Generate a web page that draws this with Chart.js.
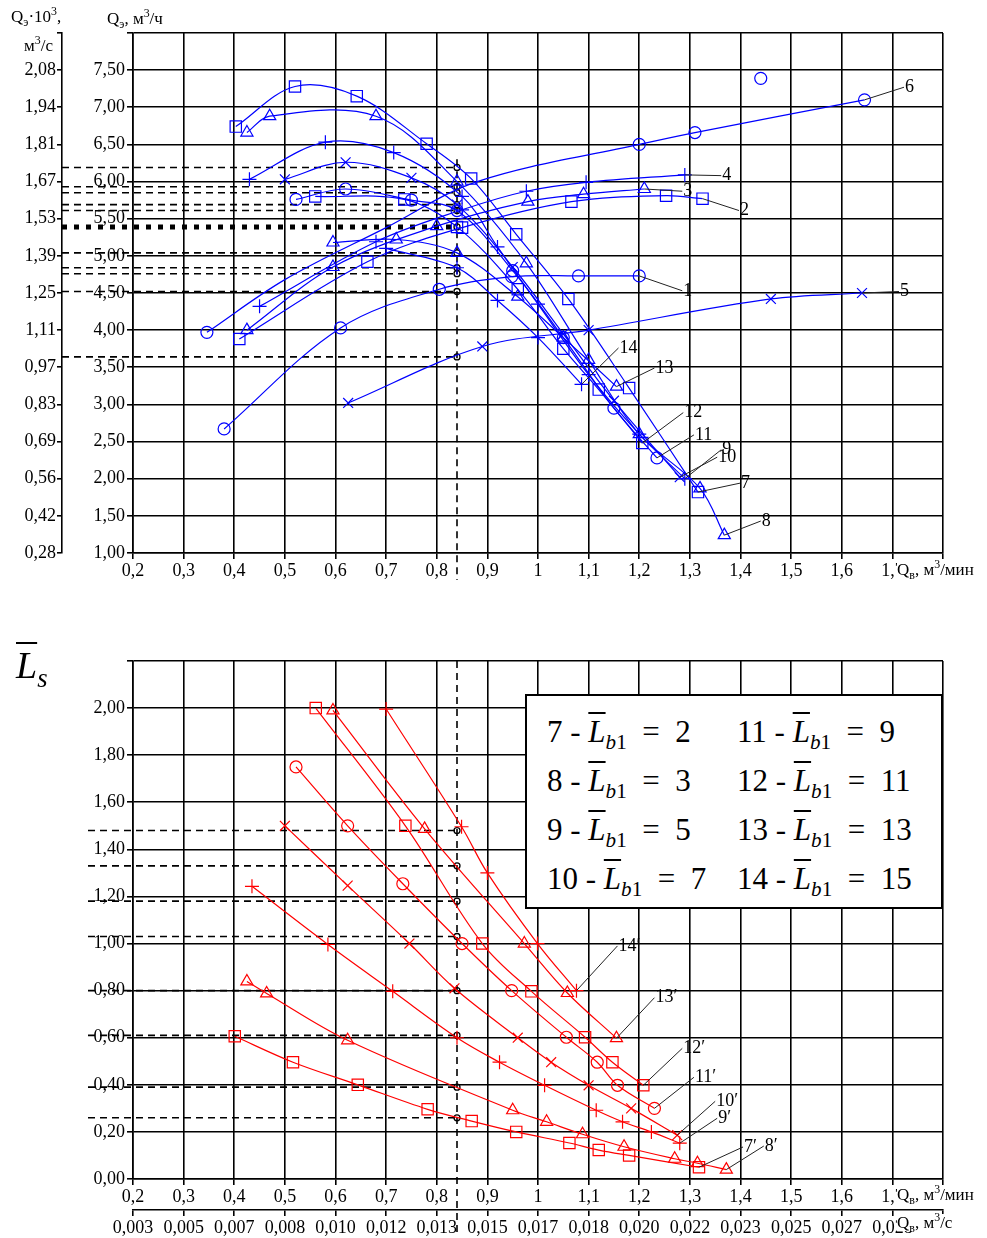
<!DOCTYPE html>
<html>
<head>
<meta charset="utf-8">
<script src="https://cdn.jsdelivr.net/npm/chart.js@4"></script>
<style>
  body { margin: 0; background: #fff; width: 987px; height: 1238px; position: relative; overflow: hidden; font-family: "Liberation Serif", serif; }
  canvas { position: absolute; left: 0; }
  #topChart { top: 0; }
  #bottomChart { top: 600px; }
  .t { position: absolute; white-space: nowrap; color: #000; font-size: 17px; line-height: 1; }
  .t sub, .t sup { font-size: 70%; line-height: 0; }
  .w { background: #fff; padding-right: 2px; }
  .ov { text-decoration: overline; text-decoration-thickness: 1.5px; }
  #legend { position: absolute; left: 525px; top: 694px; width: 414px; height: 211px; border: 2px solid #000; background: #fff; font-size: 31px; }
  #legend div { position: absolute; white-space: nowrap; line-height: 1; }
  #legend sub { font-size: 68%; line-height: 0; }
</style>
</head>
<body>
<canvas id="topChart" width="987" height="600"></canvas>
<canvas id="bottomChart" width="987" height="638"></canvas>

<div class="t" style="left:11px;top:8px">Q<sub>э</sub>·10<sup>3</sup>,</div>
<div class="t" style="left:24px;top:37px">м<sup>3</sup>/с</div>
<div class="t" style="left:107px;top:10px">Q<sub>э</sub>, м<sup>3</sup>/ч</div>
<div class="t w" style="left:897px;top:561px">Q<sub>в</sub>, м<sup>3</sup>/мин</div>
<div class="t" style="left:16px;top:646px;font-size:38px;font-style:italic"><span class="ov">L</span><sub>s</sub></div>
<div class="t w" style="left:897px;top:1186px">Q<sub>в</sub>, м<sup>3</sup>/мин</div>
<div class="t w" style="left:897px;top:1214px">Q<sub>в</sub>, м<sup>3</sup>/с</div>

<div id="legend">
  <div style="left:20px;top:20px">7 - <i class="ov">L</i><sub><i>b</i>1</sub> &nbsp;= &nbsp;2</div>
  <div style="left:20px;top:69px">8 - <i class="ov">L</i><sub><i>b</i>1</sub> &nbsp;= &nbsp;3</div>
  <div style="left:20px;top:118px">9 - <i class="ov">L</i><sub><i>b</i>1</sub> &nbsp;= &nbsp;5</div>
  <div style="left:20px;top:167px">10 - <i class="ov">L</i><sub><i>b</i>1</sub> &nbsp;= &nbsp;7</div>
  <div style="left:210px;top:20px">11 - <i class="ov">L</i><sub><i>b</i>1</sub> &nbsp;= &nbsp;9</div>
  <div style="left:210px;top:69px">12 - <i class="ov">L</i><sub><i>b</i>1</sub> &nbsp;= &nbsp;11</div>
  <div style="left:210px;top:118px">13 - <i class="ov">L</i><sub><i>b</i>1</sub> &nbsp;= &nbsp;13</div>
  <div style="left:210px;top:167px">14 - <i class="ov">L</i><sub><i>b</i>1</sub> &nbsp;= &nbsp;15</div>
</div>

<script>
// Q_э (м3/ч) against Q_в (м3/мин), curves 1-6 rising, 7-14 falling
const curve1 = [[0.38, 2.67], [0.61, 4.03], [0.805, 4.55], [0.948, 4.72], [1.08, 4.73], [1.2, 4.73]];
const curve2 = [[0.41, 3.88], [0.663, 4.92], [0.85, 5.38], [1.066, 5.73], [1.253, 5.81], [1.325, 5.77]];
const curve3 = [[0.425, 4.0], [0.595, 4.85], [0.8, 5.4], [0.98, 5.73], [1.09, 5.83], [1.21, 5.9]];
const curve4 = [[0.45, 4.32], [0.68, 5.19], [0.85, 5.62], [0.977, 5.87], [1.095, 5.99], [1.29, 6.09]];
const curve5 = [[0.625, 3.02], [0.89, 3.78], [1.1, 4.0], [1.46, 4.42], [1.64, 4.5]];
const curve6 = [[0.346, 3.97], [0.5, 4.68], [0.7, 5.38], [0.88, 6.0], [1.2, 6.5], [1.31, 6.66], [1.645, 7.1]];
const curve6Loose = [[1.44, 7.39]];
const curve7 = [[0.403, 6.74], [0.52, 7.28], [0.642, 7.15], [0.78, 6.51], [0.868, 6.04], [0.957, 5.29], [1.06, 4.42], [1.18, 3.22], [1.316, 1.82]];
const curve8 = [[0.425, 6.66], [0.47, 6.88], [0.68, 6.88], [0.84, 6.0], [0.977, 4.9], [1.1, 3.6], [1.2, 2.6], [1.32, 1.87], [1.368, 1.24]];
const curve9 = [[0.43, 6.03], [0.58, 6.53], [0.715, 6.39], [0.85, 5.8], [0.92, 5.12], [1.0, 4.35], [1.1, 3.4], [1.2, 2.6], [1.29, 2.0]];
const curve10 = [[0.5, 6.03], [0.62, 6.26], [0.75, 6.05], [0.84, 5.69], [0.95, 4.85], [1.05, 3.95], [1.15, 3.05], [1.28, 2.02]];
const curve11 = [[0.522, 5.76], [0.62, 5.9], [0.75, 5.75], [0.84, 5.61], [0.95, 4.8], [1.05, 3.9], [1.15, 2.95], [1.235, 2.28]];
const curve12 = [[0.56, 5.8], [0.736, 5.76], [0.84, 5.39], [0.96, 4.55], [1.05, 3.75], [1.12, 3.2], [1.206, 2.48]];
const curve13 = [[0.595, 5.18], [0.72, 5.22], [0.84, 5.04], [0.96, 4.45], [1.05, 3.9], [1.155, 3.24]];
const curve14 = [[0.7, 5.1], [0.84, 4.84], [0.92, 4.4], [1.0, 3.9], [1.086, 3.27]];

// L_s against Q_в, curves 7'-14'
const line7 = [[0.401, 0.606], [0.516, 0.496], [0.644, 0.40], [0.782, 0.296], [0.869, 0.246], [0.957, 0.2], [1.062, 0.153], [1.12, 0.123], [1.18, 0.1], [1.318, 0.05]];
const line8 = [[0.425, 0.839], [0.464, 0.788], [0.624, 0.589], [0.95, 0.292], [1.017, 0.243], [1.088, 0.19], [1.17, 0.137], [1.27, 0.086], [1.315, 0.067], [1.372, 0.04]];
const line9 = [[0.435, 1.243], [0.585, 0.996], [0.713, 0.797], [0.84, 0.60], [0.924, 0.496], [1.013, 0.398], [1.115, 0.292], [1.167, 0.243], [1.224, 0.2], [1.28, 0.152]];
const line10 = [[0.5, 1.5], [0.624, 1.246], [0.746, 1.0], [0.835, 0.81], [0.96, 0.6], [1.026, 0.496], [1.1, 0.398], [1.184, 0.3], [1.275, 0.186]];
const line11 = [[0.522, 1.75], [0.624, 1.5], [0.733, 1.254], [0.85, 1.0], [0.948, 0.8], [1.056, 0.602], [1.117, 0.496], [1.157, 0.398], [1.23, 0.3]];
const line12 = [[0.561, 2.0], [0.738, 1.5], [0.89, 1.0], [0.987, 0.797], [1.093, 0.602], [1.147, 0.496], [1.208, 0.398]];
const line13 = [[0.595, 1.99], [0.776, 1.487], [0.973, 1.0], [1.058, 0.79], [1.155, 0.598]];
const line14 = [[0.70, 1.996], [0.849, 1.496], [0.9, 1.3], [0.999, 1.0], [1.076, 0.8]];

const qWork = 0.84;
const topLevels = [6.19, 5.93, 5.85, 5.69, 5.61, 5.39, 5.04, 4.84, 4.76, 4.52, 3.64];
const topBoldLevel = 5.39;
const bottomLevels = [1.48, 1.33, 1.18, 1.03, 0.80, 0.61, 0.39, 0.26];

// curve numbers and where their tags sit
const topTags = [
  { text: "1", curve: curve1, at: [1.285, 4.53] },
  { text: "2", curve: curve2, at: [1.397, 5.61] },
  { text: "3", curve: curve3, at: [1.285, 5.87] },
  { text: "4", curve: curve4, at: [1.362, 6.08] },
  { text: "5", curve: curve5, at: [1.713, 4.52] },
  { text: "6", curve: curve6, at: [1.723, 7.27] },
  { text: "7", curve: curve7, at: [1.399, 1.94] },
  { text: "8", curve: curve8, at: [1.44, 1.43] },
  { text: "9", curve: curve9, at: [1.362, 2.39] },
  { text: "10", curve: curve10, at: [1.354, 2.29] },
  { text: "11", curve: curve11, at: [1.308, 2.59] },
  { text: "12", curve: curve12, at: [1.287, 2.89] },
  { text: "13", curve: curve13, at: [1.23, 3.49] },
  { text: "14", curve: curve14, at: [1.159, 3.76] },
];
const bottomTags = [
  { text: "7′", curve: line7, at: [1.405, 0.136] },
  { text: "8′", curve: line8, at: [1.446, 0.14] },
  { text: "9′", curve: line9, at: [1.354, 0.258] },
  { text: "10′", curve: line10, at: [1.35, 0.33] },
  { text: "11′", curve: line11, at: [1.308, 0.432] },
  { text: "12′", curve: line12, at: [1.285, 0.555] },
  { text: "13′", curve: line13, at: [1.23, 0.77] },
  { text: "14′", curve: line14, at: [1.157, 0.99] },
];

Chart.defaults.font.family = '"Liberation Serif", serif';
Chart.defaults.font.size = 18;
Chart.defaults.color = "#000";

const fmt = (v, d) => v.toFixed(d).replace(".", ",");
const xLabel = (v) => (v > 1.75 ? "" : String(+v.toFixed(1)).replace(".", ","));
const markerSize = { rect: 8, circle: 6, triangle: 7, cross: 7, crossRot: 7 };

function curve(points, style, color, radius) {
  return {
    data: points.map(([x, y]) => ({ x, y })),
    showLine: true,
    borderColor: color,
    borderWidth: 1.2,
    tension: 0.35,
    pointStyle: style,
    pointRadius: radius !== undefined ? radius : markerSize[style],
    pointBorderColor: color,
    pointBackgroundColor: "rgba(0,0,0,0)",
    pointBorderWidth: 1.2,
  };
}

function workMarks(levels) {
  return {
    data: levels.map((y) => ({ x: qWork, y })),
    showLine: false,
    pointStyle: "circle",
    pointRadius: 3,
    pointBorderColor: "#000",
    pointBackgroundColor: "rgba(0,0,0,0)",
    pointBorderWidth: 1.3,
  };
}

const gridStyle = { color: "#000", lineWidth: 1.6, tickLength: 6 };
const borderStyle = { color: "#000", width: 1.6 };

// dashed read-off lines at the working point
function workLines(id, levels, bold, leftEdge, vTop, vBelow) {
  return {
    id,
    beforeDatasetsDraw(chart) {
      const { ctx, chartArea, scales } = chart;
      const px = scales.x.getPixelForValue(qWork);
      const left = leftEdge(chart);
      ctx.save();
      ctx.strokeStyle = "#000";
      levels.forEach((v) => {
        const py = scales.y.getPixelForValue(v);
        const heavy = v === bold;
        ctx.lineWidth = heavy ? 5 : 1.6;
        ctx.setLineDash(heavy ? [5, 7] : [7, 5]);
        ctx.beginPath();
        ctx.moveTo(left, py);
        ctx.lineTo(px, py);
        ctx.stroke();
      });
      ctx.lineWidth = 1.6;
      ctx.setLineDash([7, 5]);
      ctx.beginPath();
      ctx.moveTo(px, vTop === null ? chartArea.top : scales.y.getPixelForValue(vTop));
      ctx.lineTo(px, chartArea.bottom + vBelow);
      ctx.stroke();
      ctx.restore();
    },
  };
}

// curve numbers with thin leaders from the last point
function curveTags(id, tags) {
  return {
    id,
    afterDatasetsDraw(chart) {
      const { ctx, scales } = chart;
      ctx.save();
      ctx.font = '18px "Liberation Serif", serif';
      ctx.fillStyle = "#000";
      ctx.strokeStyle = "#222";
      ctx.lineWidth = 1;
      ctx.textBaseline = "middle";
      tags.forEach((t) => {
        const end = t.curve[t.curve.length - 1];
        const x0 = scales.x.getPixelForValue(end[0]);
        const y0 = scales.y.getPixelForValue(end[1]);
        const x1 = scales.x.getPixelForValue(t.at[0]);
        const y1 = scales.y.getPixelForValue(t.at[1]);
        ctx.beginPath();
        ctx.moveTo(x0, y0);
        ctx.lineTo(x1, y1);
        ctx.stroke();
        ctx.fillText(t.text, x1 + 1, y1);
      });
      ctx.restore();
    },
  };
}

const blue = "#0000ff";
const red = "#ff0000";

new Chart(document.getElementById("topChart"), {
  type: "scatter",
  data: {
    datasets: [
      curve(curve1, "circle", blue),
      curve(curve2, "rect", blue),
      curve(curve3, "triangle", blue),
      curve(curve4, "cross", blue),
      curve(curve5, "crossRot", blue),
      curve(curve6, "circle", blue, [6, 0, 0, 0, 6, 6, 6]),
      Object.assign(curve(curve6Loose, "circle", blue), { showLine: false }),
      curve(curve7, "rect", blue),
      curve(curve8, "triangle", blue),
      curve(curve9, "cross", blue),
      curve(curve10, "crossRot", blue),
      curve(curve11, "circle", blue),
      curve(curve12, "rect", blue),
      curve(curve13, "triangle", blue),
      curve(curve14, "cross", blue),
      workMarks(topLevels),
    ],
  },
  options: {
    responsive: false,
    animation: false,
    devicePixelRatio: 1,
    layout: { padding: { top: 33, right: 44, left: 0, bottom: 0 } },
    plugins: { legend: { display: false }, tooltip: { enabled: false } },
    scales: {
      x: {
        type: "linear", min: 0.2, max: 1.8,
        ticks: { stepSize: 0.1, callback: xLabel, autoSkip: false, maxRotation: 0, padding: 1 },
        grid: gridStyle, border: borderStyle,
        afterFit(s) { s.height = 47; },
      },
      y: {
        type: "linear", min: 1, max: 8, weight: 0,
        ticks: { stepSize: 0.5, callback: (v) => (v > 7.9 ? "" : fmt(v, 2)), padding: 2 },
        grid: gridStyle, border: borderStyle,
        afterFit(s) { s.width = 71; },
      },
      y2: {
        type: "linear", position: "left", min: 1, max: 8, weight: 1,
        ticks: { stepSize: 0.5, callback: (v) => (v > 7.9 ? "" : fmt(v / 3.6, 2)), padding: 1 },
        grid: { drawOnChartArea: false, color: "#000", lineWidth: 1.6, tickLength: 5 },
        border: borderStyle,
        afterFit(s) { s.width = 62; },
      },
    },
  },
  plugins: [
    workLines("topWork", topLevels, topBoldLevel, (c) => c.scales.y2.right, 6.3, 27),
    curveTags("topTags", topTags),
  ],
});

new Chart(document.getElementById("bottomChart"), {
  type: "scatter",
  data: {
    datasets: [
      curve(line7, "rect", red),
      curve(line8, "triangle", red),
      curve(line9, "cross", red),
      curve(line10, "crossRot", red),
      curve(line11, "circle", red),
      curve(line12, "rect", red),
      curve(line13, "triangle", red),
      curve(line14, "cross", red),
      workMarks(bottomLevels),
    ],
  },
  options: {
    responsive: false,
    animation: false,
    devicePixelRatio: 1,
    layout: { padding: { top: 61, right: 44, left: 0, bottom: 0 } },
    plugins: { legend: { display: false }, tooltip: { enabled: false } },
    scales: {
      x: {
        type: "linear", min: 0.2, max: 1.8, weight: 0,
        ticks: { stepSize: 0.1, callback: xLabel, autoSkip: false, maxRotation: 0, padding: 1 },
        grid: gridStyle, border: borderStyle,
        afterFit(s) { s.height = 31; },
      },
      x2: {
        type: "linear", position: "bottom", min: 0.2, max: 1.8, weight: 1,
        ticks: { stepSize: 0.1, callback: (v) => (v > 1.75 ? "" : fmt(v / 60, 3)), autoSkip: false, maxRotation: 0, padding: 1 },
        grid: { drawOnChartArea: false, color: "#000", lineWidth: 1.6, tickLength: 6 },
        border: borderStyle,
        afterFit(s) { s.height = 28; },
      },
      y: {
        type: "linear", min: 0, max: 2.2,
        ticks: { stepSize: 0.2, callback: (v) => (v > 2.1 ? "" : fmt(v, 2)), padding: 2 },
        grid: gridStyle, border: borderStyle,
        afterFit(s) { s.width = 133; },
      },
    },
  },
  plugins: [
    workLines("bottomWork", bottomLevels, null, (c) => c.chartArea.left - 45, null, 56),
    curveTags("bottomTags", bottomTags),
  ],
});
</script>
</body>
</html>
